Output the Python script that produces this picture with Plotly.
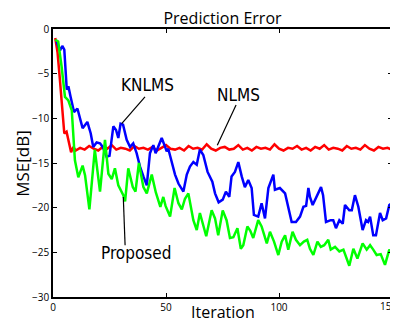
import plotly.graph_objects as go

# ---------------- data ----------------
nlms_x = [1, 2, 3, 4, 5, 6, 7, 8, 9, 10] + list(range(12, 151, 2))
nlms_y = [-1.0, -2.6, -5.5, -9.0, -11.7, -11.5, -12.7, -13.8, -13.2, -13.6,
          -13.3, -13.5, -13.1, -13.4, -13.6, -13.2, -13.4, -13.0, -13.5, -13.3,
          -13.4, -13.6, -13.1, -13.4, -13.3, -13.5, -13.2, -13.6, -13.3, -13.0,
          -13.4, -13.5, -13.3, -13.6, -13.1, -13.4, -13.3, -13.5, -12.9, -13.4,
          -13.6, -13.3, -13.2, -13.5, -13.4, -13.0, -13.5, -13.3, -13.6, -13.2,
          -13.4, -13.3, -13.5, -12.9, -13.4, -13.6, -13.3, -13.4, -13.1, -13.5,
          -13.3, -13.6, -13.2, -13.4, -13.0, -13.5, -13.3, -13.4, -13.6, -13.1,
          -13.4, -13.3, -13.5, -13.0, -13.4, -13.6, -13.2, -13.4, -13.3, -13.5]

knlms_x = [1.6, 3.1, 4.1, 5, 6.1, 6.8, 7.8, 9.3, 10.8, 12, 13.1, 15.2, 16.7, 17.8,
           19.3, 20.8, 22, 23.7, 25, 26.7, 27.9, 28.9, 29.9, 31, 32.6, 34.1, 35.5,
           37, 38.5, 40, 41.5, 42.9, 44.4, 45.4, 46.6, 48.1, 49.6, 50.3, 51, 52.5,
           54, 55.5, 57.7, 59.2, 60.6, 62.1, 63.6, 65, 66.5, 68.4, 70.5, 71.7, 73.3,
           75.1, 76.5, 78, 79, 80.5, 82, 83.5, 84.9, 86.4, 87.9, 88.9, 90.8, 92.3,
           93.8, 95.3, 97.5, 98.2, 100.4, 102.7, 104.1, 105.6, 107.5, 109.3, 110.8,
           112, 113, 113.7, 114.9, 116, 118.6, 119.5, 120.8, 122.9, 124, 125.2,
           126.7, 128.2, 129.2, 131.1, 132.2, 133.6, 135.1, 137, 138.5, 139.4,
           140.3, 141.7, 142.9, 144.7, 145.9, 147.4, 148.8, 150]
knlms_y = [-1.4, -2.4, -1.9, -2.3, -6.8, -6.4, -7.6, -9.3, -8.9, -10.0, -11.1, -10.4,
           -11.7, -13.2, -12.7, -12.8, -13.2, -14.3, -14.2, -10.9, -11.3, -12.2, -10.6,
           -10.7, -12.4, -13.2, -12.8, -13.9, -15.4, -16.5, -17.5, -13.9, -13.0, -13.9,
           -13.2, -12.2, -13.2, -13.7, -13.4, -15.0, -16.3, -17.3, -18.2, -16.3, -15.4,
           -14.9, -15.2, -13.5, -14.1, -16.0, -17.1, -18.4, -19.4, -19.1, -18.2, -18.8,
           -16.5, -16.0, -14.9, -16.5, -17.7, -16.9, -17.8, -20.8, -21.0, -19.5, -21.2,
           -17.8, -16.3, -18.0, -17.8, -18.4, -19.9, -21.6, -21.6, -21.0, -19.9, -19.8,
           -17.8, -18.8, -19.7, -19.1, -17.7, -18.6, -21.6, -21.4, -21.4, -22.3, -21.4,
           -21.8, -19.7, -20.3, -20.3, -18.6, -19.9, -22.5, -21.4, -21.6, -21.0, -23.1,
           -23.1, -20.6, -21.4, -21.2, -19.7, -19.5]

prop_x = [1, 2.3, 3.8, 5.3, 6.8, 8.3, 9.7, 11.2, 13.1, 14.2, 16.1, 18.5, 20.8, 23,
          24.5, 26, 27.4, 28.9, 31.1, 31.9, 33.3, 35.3, 36.5, 38, 40, 41.5, 43.7,
          45.5, 47.5, 48.8, 49.8, 51.8, 53.8, 55.5, 57, 58.4, 59.9, 62.1, 63.6, 65,
          67.8, 70.2, 71.7, 73.1, 75.1, 76.8, 78.3, 79.8, 81.6, 83.1, 84.2, 86, 87.3,
          88.6, 90.8, 92.3, 94.6, 96, 97.8, 99.7, 101.2, 102.7, 104.1, 106, 107.5,
          109.3, 111, 112.5, 113.7, 115.2, 117, 118.5, 120, 121.8, 122.9, 124.8,
          126.7, 128.5, 131.1, 132.9, 134.7, 137, 138.8, 140.3, 141.7, 143.2, 145,
          146.9, 148.8, 150]
prop_y = [-1.2, -1.4, -4.2, -7.6, -8.0, -9.1, -14.7, -16.6, -15.3, -16.4, -20.2, -13.5,
          -18.2, -12.4, -16.2, -16.8, -15.6, -17.5, -18.6, -19.3, -15.6, -17.7, -18.2,
          -15.0, -17.7, -18.4, -16.3, -18.3, -19.9, -18.8, -19.8, -21.0, -17.8, -19.5,
          -20.2, -19.0, -18.4, -21.4, -22.5, -20.6, -23.2, -20.3, -21.2, -23.1, -20.3,
          -21.4, -23.4, -23.3, -22.3, -24.6, -24.2, -22.1, -22.6, -23.4, -21.4, -22.1,
          -24.0, -22.7, -23.8, -25.3, -23.8, -23.1, -24.7, -22.7, -23.6, -24.2, -23.8,
          -23.6, -24.6, -25.3, -23.8, -24.4, -24.2, -23.6, -24.7, -24.4, -24.9, -24.7,
          -26.5, -24.6, -25.7, -24.0, -24.7, -24.2, -24.7, -25.3, -25.2, -26.4, -24.7,
          -25.1]

x_ticks = [0, 50, 100, 150]
x_tick_labels = ["0", "50", "100", ""]   # last label drawn separately so it stays on-page
x_last_label = "150"
y_ticks = [0, -5, -10, -15, -20, -25, -30]

# ---------------- figure ----------------
fig = go.Figure()
fig.add_trace(go.Scatter(x=nlms_x, y=nlms_y, mode="lines", name="NLMS",
                         line=dict(color="#ff0000", width=2.5)))
fig.add_trace(go.Scatter(x=knlms_x, y=knlms_y, mode="lines", name="KNLMS",
                         line=dict(color="#0000ff", width=2.5)))
fig.add_trace(go.Scatter(x=prop_x, y=prop_y, mode="lines", name="Proposed",
                         line=dict(color="#00ff00", width=2.5)))

label_font = dict(family="Liberation Sans Narrow, DejaVu Sans Condensed, sans-serif",
                  size=17, color="black")

# label leader lines
for (x0, y0, x1, y1) in [(40.7, -7.6, 30.4, -10.6),
                         (81.0, -8.5, 72.7, -13.0),
                         (31.9, -24.2, 31.1, -18.8)]:
    fig.add_shape(type="line", x0=x0, y0=y0, x1=x1, y1=y1, xref="x", yref="y",
                  line=dict(color="black", width=1.2))

fig.add_annotation(x=42.0, y=-6.3, text="KNLMS", showarrow=False, font=label_font,
                   xref="x", yref="y")
fig.add_annotation(x=81.9, y=-7.4, text="NLMS", showarrow=False, font=label_font,
                   xref="x", yref="y")
fig.add_annotation(x=36.7, y=-25.1, text="Proposed", showarrow=False, font=label_font,
                   xref="x", yref="y")

main_font = "Open Sans, Noto Sans, sans-serif"
fig.add_annotation(x=x_ticks[-1], y=0, xref="x", yref="paper", text=x_last_label,
                   showarrow=False, xanchor="right", yanchor="top", xshift=6,
                   yshift=-1, borderpad=0,
                   font=dict(family=main_font, size=10, color="black"))
fig.add_annotation(x=0.5, y=-0.008, xref="paper", yref="paper", text="Iteration",
                   showarrow=False, yanchor="top",
                   font=dict(family=main_font, size=16, color="black"))
fig.add_annotation(x=-0.092, y=0.5, xref="paper", yref="paper", text="MSE[dB]",
                   showarrow=False, textangle=-90, xanchor="center",
                   font=dict(family=main_font, size=17, color="black"))

axis_common = dict(showline=True, linecolor="black", linewidth=1.5, mirror="ticks",
                   ticks="inside", ticklen=4, tickwidth=1, tickcolor="black",
                   showgrid=False, zeroline=False, automargin=False,
                   tickfont=dict(family=main_font, size=10, color="black"))

# page body adds an 8px offset, so the figure is 8px smaller and margins shifted
fig.update_layout(
    width=390, height=314,
    margin=dict(l=45, r=6, t=21, b=25, autoexpand=False),
    paper_bgcolor="white", plot_bgcolor="white",
    showlegend=False,
    title=dict(text="Prediction Error", x=0.5, xref="paper", y=0.968, yanchor="middle",
               font=dict(family=main_font, size=16, color="black")),
    xaxis=dict(range=[0, 150], tickvals=x_ticks, ticktext=x_tick_labels, **axis_common),
    yaxis=dict(range=[-30, 0], tickvals=y_ticks, **axis_common),
)

fig.write_html("out.html")
